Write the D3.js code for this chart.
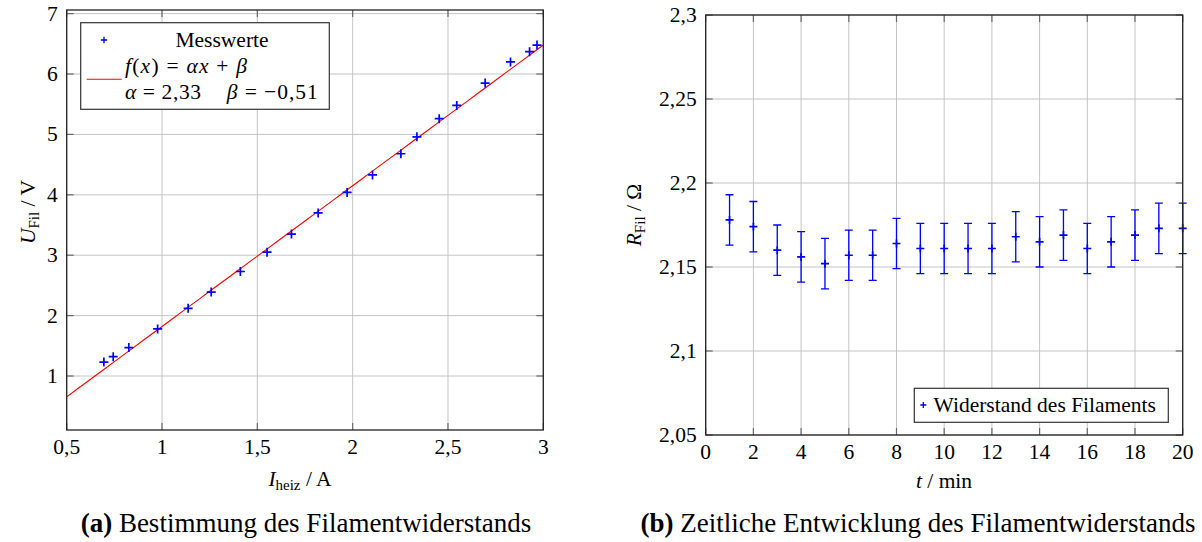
<!DOCTYPE html>
<html>
<head>
<meta charset="utf-8">
<script src="https://cdn.jsdelivr.net/npm/d3@7"></script>
<style>
  html, body { margin: 0; padding: 0; background: #ffffff; }
  svg { display: block; }
  text { font-family: "Liberation Serif", "Times New Roman", serif; fill: #000; }
</style>
</head>
<body>
<svg id="chart" width="1202" height="542" font-family="Liberation Serif, serif"></svg>
<script>
// ---------- Data: (a) Bestimmung des Filamentwiderstands ----------
const heizCurrentA = [0.695, 0.744, 0.826, 0.977, 1.137, 1.258, 1.411, 1.551, 1.679, 1.819,
                      1.971, 2.104, 2.253, 2.337, 2.454, 2.546, 2.695, 2.828, 2.928, 2.967];
const filVoltageV  = [1.23, 1.32, 1.47, 1.78, 2.12, 2.39, 2.73, 3.05, 3.35, 3.70,
                      4.04, 4.33, 4.68, 4.96, 5.26, 5.48, 5.85, 6.20, 6.37, 6.48];
const fitParams = [2.33, -0.51];           // alpha, beta
const xTicksA = [0.5, 1, 1.5, 2, 2.5, 3];
const yTicksA = [1, 2, 3, 4, 5, 6, 7];

// ---------- Data: (b) Zeitliche Entwicklung des Filamentwiderstands ----------
const timeMin = [1, 2, 3, 4, 5, 6, 7, 8, 9, 10, 11, 12, 13, 14, 15, 16, 17, 18, 19, 20];
const resistanceOhm = [2.178, 2.174, 2.160, 2.156, 2.152, 2.157, 2.157, 2.164, 2.161, 2.161,
                       2.161, 2.161, 2.168, 2.165, 2.169, 2.161, 2.165, 2.169, 2.173, 2.173];
const resistanceErr = [0.015, 0.015, 0.015, 0.015, 0.015, 0.015, 0.015, 0.015, 0.015, 0.015,
                       0.015, 0.015, 0.015, 0.015, 0.015, 0.015, 0.015, 0.015, 0.015, 0.015];
const xTicksB = [0, 2, 4, 6, 8, 10, 12, 14, 16, 18, 20];
const yTicksB = [2.05, 2.1, 2.15, 2.2, 2.25, 2.3];

const fmt = v => String(+v.toFixed(2)).replace(".", ",");
const svg = d3.select("#chart");
const FS = 21.5;
const SERIF = "Liberation Serif, Times New Roman, serif";
const GRID = "#c4c4c4";
const BLUE = "#0000ff";

function T(g) { return g.append("text").attr("font-family", SERIF).attr("fill", "#000"); }

function drawFrame(g, x, y, xt, yt) {
  const [x0, x1] = x.range(), [y0, y1] = y.range();
  g.append("g").selectAll("line").data(xt).join("line")
    .attr("x1", d => x(d)).attr("x2", d => x(d)).attr("y1", y0).attr("y2", y1)
    .attr("stroke", GRID).attr("stroke-width", 1);
  g.append("g").selectAll("line").data(yt).join("line")
    .attr("x1", x0).attr("x2", x1).attr("y1", d => y(d)).attr("y2", d => y(d))
    .attr("stroke", GRID).attr("stroke-width", 1);
  const tl = 7, tc = "#6a6a6a";
  const tk = g.append("g").attr("stroke", tc).attr("stroke-width", 1.2);
  xt.forEach(d => {
    tk.append("line").attr("x1", x(d)).attr("x2", x(d)).attr("y1", y0).attr("y2", y0 - tl);
    tk.append("line").attr("x1", x(d)).attr("x2", x(d)).attr("y1", y1).attr("y2", y1 + tl);
  });
  yt.forEach(d => {
    tk.append("line").attr("y1", y(d)).attr("y2", y(d)).attr("x1", x0).attr("x2", x0 + tl);
    tk.append("line").attr("y1", y(d)).attr("y2", y(d)).attr("x1", x1).attr("x2", x1 - tl);
  });
}

function drawBox(g, x, y) {
  const [x0, x1] = x.range(), [y0, y1] = y.range();
  g.append("rect").attr("x", x0).attr("y", y1).attr("width", x1 - x0).attr("height", y0 - y1)
    .attr("fill", "none").attr("stroke", "#222").attr("stroke-width", 1.3);
}

function tickLabels(g, x, y, xt, yt) {
  const [x0] = x.range(), [y0] = y.range();
  g.append("g").selectAll("text").data(xt).join("text")
    .attr("font-family", SERIF)
    .attr("x", d => x(d)).attr("y", y0 + 24).attr("text-anchor", "middle")
    .attr("font-size", FS).text(fmt);
  g.append("g").selectAll("text").data(yt).join("text")
    .attr("font-family", SERIF)
    .attr("x", x0 - 9).attr("y", d => y(d) + 7).attr("text-anchor", "end")
    .attr("font-size", FS).text(fmt);
}

function plus(g, cx, cy, r, w) {
  g.append("path").attr("d", `M${cx - r},${cy}H${cx + r}M${cx},${cy - r}V${cy + r}`)
    .attr("stroke", BLUE).attr("stroke-width", w).attr("fill", "none");
}

// ================= Plot (a) =================
const xa = d3.scaleLinear().domain([0.5, 3]).range([66.7, 543.3]);
const ya = d3.scaleLinear().domain([0.106, 7.06]).range([430, 10]);
const ga = svg.append("g");
drawFrame(ga, xa, ya, xTicksA, yTicksA);

const fitX = d3.range(0.5, 3.0001, 0.05);
ga.append("path")
  .datum(fitX)
  .attr("d", d3.line().x(d => xa(d)).y(d => ya(fitParams[0] * d + fitParams[1])))
  .attr("stroke", "#ff0000").attr("stroke-width", 1.1).attr("fill", "none");

heizCurrentA.forEach((v, i) => plus(ga, xa(v), ya(filVoltageV[i]), 4.5, 1.7));
drawBox(ga, xa, ya);
tickLabels(ga, xa, ya, xTicksA, yTicksA);

// legend (a)
const la = ga.append("g");
la.append("rect").attr("x", 80.7).attr("y", 22.7).attr("width", 248.6).attr("height", 86.6)
  .attr("fill", "#fff").attr("stroke", "#333").attr("stroke-width", 1.2);
plus(la, 104, 40, 3.2, 1.3);
T(la).attr("x", 222).attr("y", 46.5).attr("text-anchor", "middle")
  .attr("font-size", FS).text("Messwerte");
la.append("line").attr("x1", 86.7).attr("x2", 121.7).attr("y1", 79.3).attr("y2", 79.3)
  .attr("stroke", "#ff0000").attr("stroke-width", 1.1);
const f1 = T(la).attr("x", 125).attr("y", 72.5).attr("font-size", FS)
  .attr("textLength", 122).attr("lengthAdjust", "spacing");
f1.append("tspan").attr("font-style", "italic").text("f");
f1.append("tspan").text("(");
f1.append("tspan").attr("font-style", "italic").text("x");
f1.append("tspan").text(") = ");
f1.append("tspan").attr("font-style", "italic").text("αx");
f1.append("tspan").text(" + ");
f1.append("tspan").attr("font-style", "italic").text("β");
const f2 = T(la).attr("x", 125).attr("y", 98.5).attr("font-size", FS)
  .attr("textLength", 76).attr("lengthAdjust", "spacing");
f2.append("tspan").attr("font-style", "italic").text("α");
f2.append("tspan").text(" = " + fmt(fitParams[0]));
const f3 = T(la).attr("x", 226.7).attr("y", 98.5).attr("font-size", FS)
  .attr("textLength", 91).attr("lengthAdjust", "spacing");
f3.append("tspan").attr("font-style", "italic").text("β");
f3.append("tspan").text(" = −" + fmt(Math.abs(fitParams[1])));

// axis labels (a)
const xla = T(ga).attr("x", 300).attr("y", 486).attr("text-anchor", "middle").attr("font-size", FS);
xla.append("tspan").attr("font-style", "italic").text("I");
xla.append("tspan").attr("font-size", 15).attr("dy", 4).text("heiz");
xla.append("tspan").attr("dy", -4).text(" / A");
const yla = T(ga).attr("transform", "translate(35,212) rotate(-90)")
  .attr("text-anchor", "middle").attr("font-size", FS);
yla.append("tspan").attr("font-style", "italic").text("U");
yla.append("tspan").attr("font-size", 15).attr("dy", 4).text("Fil");
yla.append("tspan").attr("dy", -4).text(" / V");

// caption (a)
const ca = T(ga).attr("x", 306).attr("y", 532).attr("text-anchor", "middle").attr("font-size", 27);
ca.append("tspan").attr("font-weight", "bold").text("(a)");
ca.append("tspan").text(" Bestimmung des Filamentwiderstands");

// ================= Plot (b) =================
const xb = d3.scaleLinear().domain([0, 20]).range([705.7, 1182.7]);
const yb = d3.scaleLinear().domain([2.05, 2.3]).range([435, 15]);
const gb = svg.append("g");
drawFrame(gb, xb, yb, xTicksB, yTicksB);

const eb = gb.append("g").attr("stroke", BLUE).attr("stroke-width", 1.3).attr("fill", "none");
timeMin.forEach((t, i) => {
  const cx = xb(t), lo = yb(resistanceOhm[i] - resistanceErr[i]), hi = yb(resistanceOhm[i] + resistanceErr[i]);
  eb.append("path").attr("d", `M${cx},${lo}V${hi}M${cx - 4},${lo}H${cx + 4}M${cx - 4},${hi}H${cx + 4}`);
});
timeMin.forEach((t, i) => plus(gb, xb(t), yb(resistanceOhm[i]), 4, 1.7));
drawBox(gb, xb, yb);
tickLabels(gb, xb, yb, xTicksB, yTicksB);

// legend (b)
const lb = gb.append("g");
lb.append("rect").attr("x", 914.3).attr("y", 388.3).attr("width", 254).attr("height", 34)
  .attr("fill", "#fff").attr("stroke", "#333").attr("stroke-width", 1.2);
plus(lb, 923.3, 405, 3, 1.3);
T(lb).attr("x", 933.5).attr("y", 411.5).attr("font-size", FS).text("Widerstand des Filaments");

// axis labels (b)
const xlb = T(gb).attr("x", 944).attr("y", 488).attr("text-anchor", "middle").attr("font-size", FS);
xlb.append("tspan").attr("font-style", "italic").text("t");
xlb.append("tspan").text(" / min");
const ylb = T(gb).attr("transform", "translate(641,215) rotate(-90)")
  .attr("text-anchor", "middle").attr("font-size", FS);
ylb.append("tspan").attr("font-style", "italic").text("R");
ylb.append("tspan").attr("font-size", 15).attr("dy", 4).text("Fil");
ylb.append("tspan").attr("dy", -4).text(" / Ω");

// caption (b)
const cb = T(gb).attr("x", 918).attr("y", 532).attr("text-anchor", "middle").attr("font-size", 27);
cb.append("tspan").attr("font-weight", "bold").text("(b)");
cb.append("tspan").text(" Zeitliche Entwicklung des Filamentwiderstands");
</script>
</body>
</html>
